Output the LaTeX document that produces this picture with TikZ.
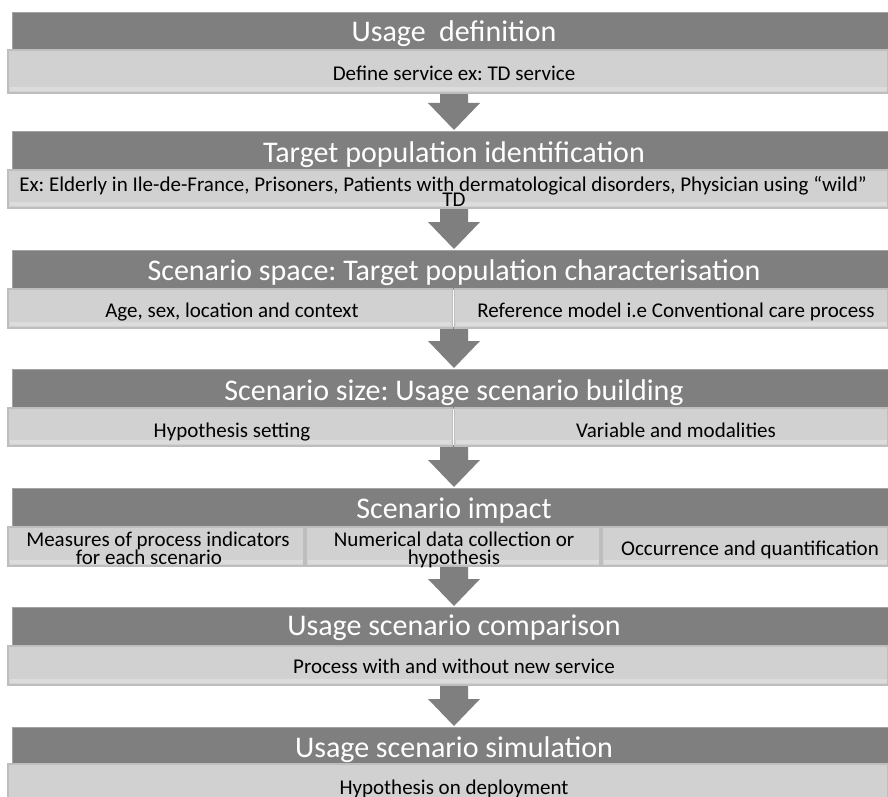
\documentclass[tikz,border=0pt]{standalone}
\usepackage{fontspec}
\setmainfont{Carlito}
\usetikzlibrary{calc,backgrounds}
\frenchspacing
\definecolor{hdrgray}{HTML}{7F7F7F}
\definecolor{hdrline}{HTML}{A3A3A3}
\definecolor{lightfill}{HTML}{D1D1D1}
\definecolor{lightline}{HTML}{BEBEBE}
\definecolor{stripfill}{HTML}{DCDCDC}
\newcommand\flowarr[2]{\fill[flowarrow] let \p1=(#1.south), \p2=(#2.north) in
  (\x2-10pt,\y1+1pt) -- (\x2+18pt,\y1+1pt) -- (\x2+18pt,\y2+28pt) -- (\x2+30pt,\y2+28pt)
  -- (\x2+4pt,\y2+1pt) -- (\x2-22pt,\y2+28pt) -- (\x2-10pt,\y2+28pt) -- cycle;}
\begin{document}
\begin{tikzpicture}[x=1pt,y=-1pt,
  hdrbox/.style 2 args={fill=hdrgray, draw=hdrline, line width=0.6pt, inner sep=0, outer sep=0,
    anchor=north west, minimum width=#1, minimum height=#2},
  litebox/.style 2 args={fill=lightfill, draw=lightline, line width=1.5pt, inner sep=0, outer sep=0,
    anchor=north west, minimum width=#1, minimum height=#2,
    path picture={\fill[stripfill] ([xshift=1.5pt,yshift=2pt]path picture bounding box.south west)
      rectangle ([xshift=-1.5pt,yshift=6pt]path picture bounding box.south east);}},
  hdrtext/.style={text=white, font=\fontsize{30}{32}\selectfont, inner sep=0, anchor=base},
  litetext/.style={text=black, font=\fontsize{21}{24}\selectfont, inner sep=0, anchor=base},
  flowarrow/.style={fill=hdrgray}
]
\useasboundingbox (0,0) rectangle (888,797);

% Section 1
\node[hdrbox={876}{38}] (h1) at (12,12) {};
\node[litebox={880}{43}] (l1) at (8,50) {};
\node[hdrtext] (t1) at (454,42) {Usage\ \ definition};
\node[litetext] (d1) at (454,81) {Define service ex: TD service};

% Section 2
\node[hdrbox={876}{39}] (h2) at (12,131) {};
\node[litebox={880}{38}] (l2) at (8,170) {};
\node[hdrtext] (t2) at (454,162) {Target population identification};
\node[litetext] (d2a) at (443,191) {Ex: Elderly in Ile-de-France, Prisoners, Patients with dermatological disorders, Physician using “wild”};
\node[litetext] (d2b) at (454,206) {TD};

% Section 3
\node[hdrbox={876}{39}] (h3) at (12,250) {};
\node[litebox={444.5}{39}] (l3a) at (8,289) {};
\node[litebox={433.5}{39}] (l3b) at (454.5,289) {};
\node[hdrtext] (t3) at (454,280) {Scenario space: Target population characterisation};
\node[litetext] (d3a) at (232,317) {Age, sex, location and context};
\node[litetext] (d3b) at (676,317) {Reference model i.e Conventional care process};

% Section 4
\node[hdrbox={876}{39}] (h4) at (12,369) {};
\node[litebox={444.5}{38}] (l4a) at (8,408) {};
\node[litebox={433.5}{38}] (l4b) at (454.5,408) {};
\node[hdrtext] (t4) at (454,400) {Scenario size: Usage scenario building};
\node[litetext] (d4a) at (232,437) {Hypothesis setting};
\node[litetext] (d4b) at (676,437) {Variable and modalities};

% Section 5
\node[hdrbox={876}{39}] (h5) at (12,488) {};
\node[litebox={296}{39}] (l5a) at (8,527) {};
\node[litebox={294}{39}] (l5b) at (306,527) {};
\node[litebox={286}{39}] (l5c) at (602,527) {};
\node[hdrtext] (t5) at (454,518) {Scenario impact};
\node[litetext] (d5a) at (158,546) {Measures of process indicators};
\node[litetext] (d5b) at (149,564) {for each scenario};
\node[litetext] (d5c) at (454,546) {Numerical data collection or};
\node[litetext] (d5d) at (454,564) {hypothesis};
\node[litetext] (d5e) at (750,555) {Occurrence and quantification};

% Section 6
\node[hdrbox={876}{39}] (h6) at (12,607) {};
\node[litebox={880}{39}] (l6) at (8,646) {};
\node[hdrtext] (t6) at (454,635) {Usage scenario comparison};
\node[litetext] (d6) at (454,673) {Process with and without new service};

% Section 7
\node[hdrbox={876}{37}] (h7) at (12,727) {};
\node[litebox={880}{40}] (l7) at (8,764) {};
\node[hdrtext] (t7) at (454,757) {Usage scenario simulation};
\node[litetext] (d7) at (454,794) {Hypothesis on deployment};

\begin{pgfonlayer}{background}
\fill[white] (0,0) rectangle (888,797);
\flowarr{l1}{h2}
\flowarr{l2}{h3}
\flowarr{l3a}{h4}
\flowarr{l4a}{h5}
\flowarr{l5a}{h6}
\flowarr{l6}{h7}
\end{pgfonlayer}
\end{tikzpicture}
\end{document}
